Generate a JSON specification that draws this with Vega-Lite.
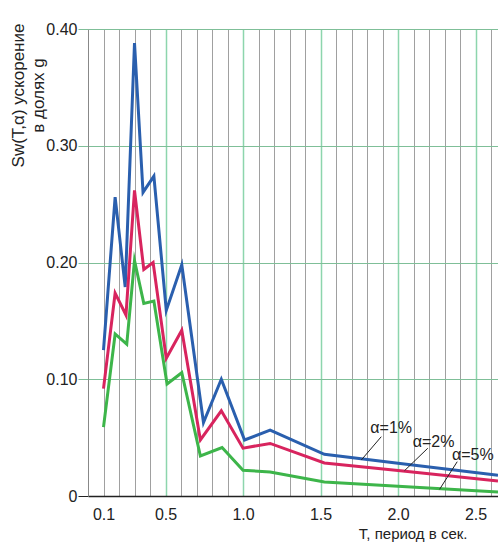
{
  "$schema": "https://vega.github.io/schema/vega-lite/v6.json",
  "width": 410,
  "height": 467,
  "autosize": {"type": "none"},
  "padding": {"left": 88, "top": 29, "right": 0, "bottom": 48},
  "background": "white",
  "config": {"view": {"stroke": null}, "font": "Liberation Sans"},
  "datasets": {
    "curves": [
      {"alpha": "α=1%", "T": 0.1, "S": 0.125},
      {"alpha": "α=1%", "T": 0.175, "S": 0.256},
      {"alpha": "α=1%", "T": 0.24, "S": 0.179},
      {"alpha": "α=1%", "T": 0.3, "S": 0.388},
      {"alpha": "α=1%", "T": 0.355, "S": 0.26},
      {"alpha": "α=1%", "T": 0.425, "S": 0.274},
      {"alpha": "α=1%", "T": 0.505, "S": 0.159},
      {"alpha": "α=1%", "T": 0.605, "S": 0.198},
      {"alpha": "α=1%", "T": 0.745, "S": 0.063},
      {"alpha": "α=1%", "T": 0.86, "S": 0.1},
      {"alpha": "α=1%", "T": 1.01, "S": 0.048},
      {"alpha": "α=1%", "T": 1.175, "S": 0.0565},
      {"alpha": "α=1%", "T": 1.525, "S": 0.0357},
      {"alpha": "α=1%", "T": 2.0, "S": 0.0281},
      {"alpha": "α=1%", "T": 2.645, "S": 0.0178},
      {"alpha": "α=2%", "T": 0.1, "S": 0.092},
      {"alpha": "α=2%", "T": 0.175, "S": 0.1737},
      {"alpha": "α=2%", "T": 0.245, "S": 0.155},
      {"alpha": "α=2%", "T": 0.3, "S": 0.2618},
      {"alpha": "α=2%", "T": 0.36, "S": 0.194},
      {"alpha": "α=2%", "T": 0.42, "S": 0.2},
      {"alpha": "α=2%", "T": 0.505, "S": 0.118},
      {"alpha": "α=2%", "T": 0.605, "S": 0.142},
      {"alpha": "α=2%", "T": 0.725, "S": 0.048},
      {"alpha": "α=2%", "T": 0.86, "S": 0.073},
      {"alpha": "α=2%", "T": 1.0, "S": 0.041},
      {"alpha": "α=2%", "T": 1.175, "S": 0.045},
      {"alpha": "α=2%", "T": 1.525, "S": 0.0283},
      {"alpha": "α=2%", "T": 2.0, "S": 0.0219},
      {"alpha": "α=2%", "T": 2.645, "S": 0.0129},
      {"alpha": "α=5%", "T": 0.1, "S": 0.059},
      {"alpha": "α=5%", "T": 0.175, "S": 0.1388},
      {"alpha": "α=5%", "T": 0.25, "S": 0.13},
      {"alpha": "α=5%", "T": 0.3, "S": 0.2017},
      {"alpha": "α=5%", "T": 0.36, "S": 0.165},
      {"alpha": "α=5%", "T": 0.425, "S": 0.167},
      {"alpha": "α=5%", "T": 0.51, "S": 0.096},
      {"alpha": "α=5%", "T": 0.605, "S": 0.1056},
      {"alpha": "α=5%", "T": 0.725, "S": 0.0343},
      {"alpha": "α=5%", "T": 0.865, "S": 0.0415},
      {"alpha": "α=5%", "T": 1.0, "S": 0.022},
      {"alpha": "α=5%", "T": 1.175, "S": 0.0206},
      {"alpha": "α=5%", "T": 1.525, "S": 0.012},
      {"alpha": "α=5%", "T": 2.0, "S": 0.0083},
      {"alpha": "α=5%", "T": 2.645, "S": 0.0034}
    ],
    "labels": [
      {"text": "α=1%", "T": 1.956, "S": 0.058},
      {"text": "α=2%", "T": 2.229, "S": 0.0465},
      {"text": "α=5%", "T": 2.483, "S": 0.035}
    ],
    "leaders": [
      {"T": 1.892, "S": 0.0508, "T2": 1.763, "S2": 0.0308},
      {"T": 2.192, "S": 0.0409, "T2": 2.042, "S2": 0.0217},
      {"T": 2.382, "S": 0.0294, "T2": 2.268, "S2": 0.0057}
    ]
  },
  "layer": [
    {
      "data": {"name": "curves"},
      "mark": {"type": "line", "strokeWidth": 3, "strokeJoin": "miter", "strokeMiterLimit": 10},
      "encoding": {
        "x": {
          "field": "T", "type": "quantitative",
          "scale": {"domain": [0, 2.645], "nice": false, "zero": false},
          "axis": {
            "values": [0.1, 0.2, 0.3, 0.4, 0.5, 0.6, 0.7, 0.8, 0.9, 1.0, 1.1, 1.2, 1.3, 1.4, 1.5, 1.6, 1.7, 1.8, 1.9, 2.0, 2.1, 2.2, 2.3, 2.4, 2.5, 2.6],
            "tickCount": 40,
            "labelExpr": "(round(datum.value*10) % 5 == 0 || round(datum.value*10) == 1) ? format(datum.value, '.1f') : ''",
            "labelOverlap": false,
            "labelFlush": false,
            "labelFontSize": 16,
            "labelColor": "#222",
            "labelPadding": 10,
            "ticks": false,
            "grid": true,
            "gridColor": {"condition": {"test": "round(datum.value*10) % 5 == 0", "value": "#8dd5ad"}, "value": "#a0a0a0"},
            "gridWidth": {"condition": {"test": "round(datum.value*10) % 5 == 0", "value": 1.5}, "value": 1},
            "domainColor": "#222",
            "domainWidth": 1.5,
            "title": "T, период в сек.",
            "titleFontSize": 15,
            "titleFontWeight": "normal",
            "titleColor": "#222",
            "titleX": 379,
            "titleY": 42,
            "titleAlign": "right",
            "titleBaseline": "alphabetic"
          }
        },
        "y": {
          "field": "S", "type": "quantitative",
          "scale": {"domain": [0, 0.4], "nice": false},
          "axis": {
            "values": [0, 0.1, 0.2, 0.3, 0.4],
            "tickCount": 10,
            "labelExpr": "datum.value == 0 ? '0' : format(datum.value, '.2f')",
            "labelFontSize": 16,
            "labelColor": "#222",
            "labelPadding": 1,
            "tickSize": 10,
            "tickColor": {"condition": {"test": "datum.value == 0", "value": "#222"}, "value": "#7fbf98"},
            "grid": true,
            "gridColor": "#7fbf98",
            "domainColor": "#888",
            "title": ["Sw(T,α)  ускорение", "в долях g"],
            "titleFontSize": 17,
            "titleFontWeight": "normal",
            "titleColor": "#222",
            "titleAngle": -90,
            "titleX": -78,
            "titleY": 66,
            "titleAlign": "center",
            "titleBaseline": "top",
            "titleLineHeight": 20
          }
        },
        "color": {
          "field": "alpha", "type": "nominal",
          "scale": {"domain": ["α=1%", "α=2%", "α=5%"], "range": ["#2a5fae", "#d8245e", "#3db54a"]},
          "legend": null
        },
        "order": {"field": "T", "type": "quantitative"}
      }
    },
    {
      "mark": {"type": "rule", "color": "#888", "strokeWidth": 1},
      "encoding": {
        "x": {"datum": 0},
        "y": {"datum": 0.4},
        "y2": {"datum": 0.412}
      }
    },
    {
      "data": {"name": "leaders"},
      "mark": {"type": "rule", "color": "#222", "strokeWidth": 1},
      "encoding": {
        "x": {"field": "T", "type": "quantitative"},
        "y": {"field": "S", "type": "quantitative"},
        "x2": {"field": "T2"},
        "y2": {"field": "S2"}
      }
    },
    {
      "data": {"name": "labels"},
      "mark": {"type": "text", "fontSize": 16, "color": "#222", "align": "center", "baseline": "middle"},
      "encoding": {
        "x": {"field": "T", "type": "quantitative"},
        "y": {"field": "S", "type": "quantitative"},
        "text": {"field": "text"}
      }
    }
  ]
}
